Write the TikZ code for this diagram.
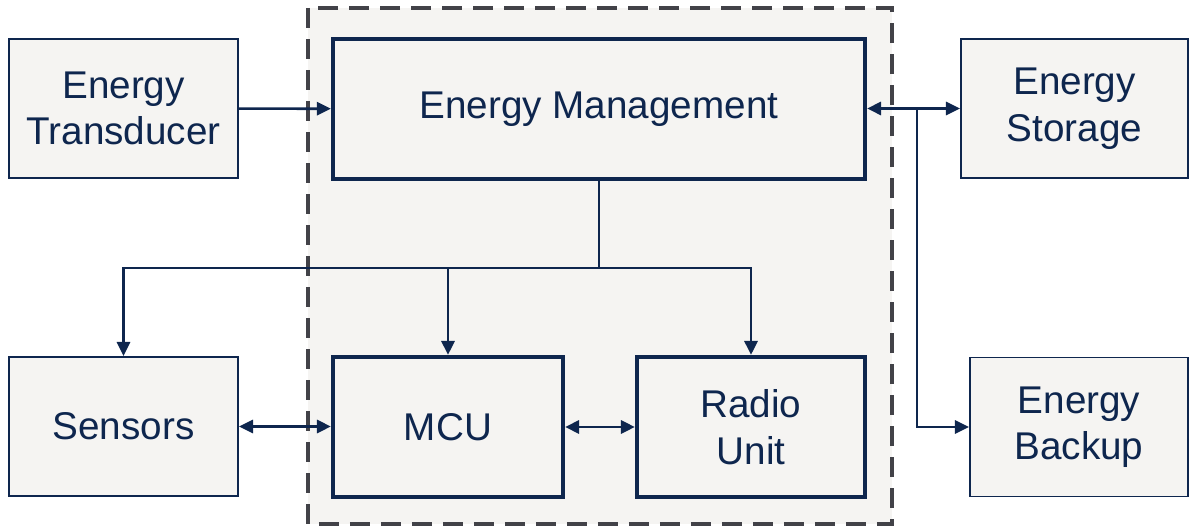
\documentclass[tikz,border=0pt]{standalone}
\usepackage{fontspec}
\setmainfont{Liberation Sans}
\usetikzlibrary{arrows.meta,positioning}
\definecolor{navy}{RGB}{14,38,78}
\definecolor{paper}{RGB}{245,244,242}
\definecolor{dashgray}{RGB}{66,66,72}
\tikzset{
  block/.style={draw=navy,fill=paper,line width=1.1pt,align=center,text=navy,
    font=\fontsize{22}{26.5}\selectfont,inner sep=0pt},
  core/.style={block,line width=2.4pt},
  link/.style={draw=navy,line width=1.5pt},
  tip/.style={link,-{Triangle[length=8pt,width=7.5pt]}},
  twotip/.style={link,{Triangle[length=8pt,width=7.5pt]}-{Triangle[length=8pt,width=7.5pt]}}
}
\begin{document}
\begin{tikzpicture}
 \useasboundingbox (0,0) rectangle (23.78,-10.6);
 %FRAME
 \draw[dashgray,fill=paper,line width=2.6pt,dash pattern=on 0.4cm off 0.22cm]
   (6.16,-0.16) rectangle (17.84,-10.48);
 %NODES
 \node[block,minimum width=4.58cm,minimum height=2.78cm] (transducer) at (2.47,-2.17) {Energy\\Transducer};
 \node[core,minimum width=10.64cm,minimum height=2.8cm] (management) at (11.98,-2.18) {Energy Management};
 \node[block,minimum width=4.54cm,minimum height=2.78cm] (storage) at (21.49,-2.17) {Energy\\Storage};
 \node[block,minimum width=4.58cm,minimum height=2.78cm] (sensors) at (2.47,-8.53) {Sensors};
 \node[core,minimum width=4.6cm,minimum height=2.8cm] (mcu) at (8.96,-8.54) {MCU};
 \node[core,minimum width=4.56cm,minimum height=2.8cm] (radio) at (15.02,-8.54) {Radio\\Unit};
 \node[block,minimum width=4.36cm,minimum height=2.78cm] (backup) at (21.58,-8.54) {Energy\\Backup};
 \coordinate (bus) at (11.98,-5.36);
 \coordinate (split) at (18.34,-2.17);
 %EDGES
 \draw[tip] (transducer) -- (management);
 \draw[twotip] (management.east |- storage) -- (storage);
 \draw[tip] (split) |- (backup.west);
 \draw[link] (management) -- (bus);
 \draw[tip] (bus) -| (sensors);
 \draw[tip] (bus) -| (radio);
 \draw[tip] (mcu.north |- bus) -- (mcu);
 \draw[twotip] (sensors) -- (mcu.west |- sensors);
 \draw[twotip] (mcu) -- (radio.west |- mcu);
\end{tikzpicture}
\end{document}
